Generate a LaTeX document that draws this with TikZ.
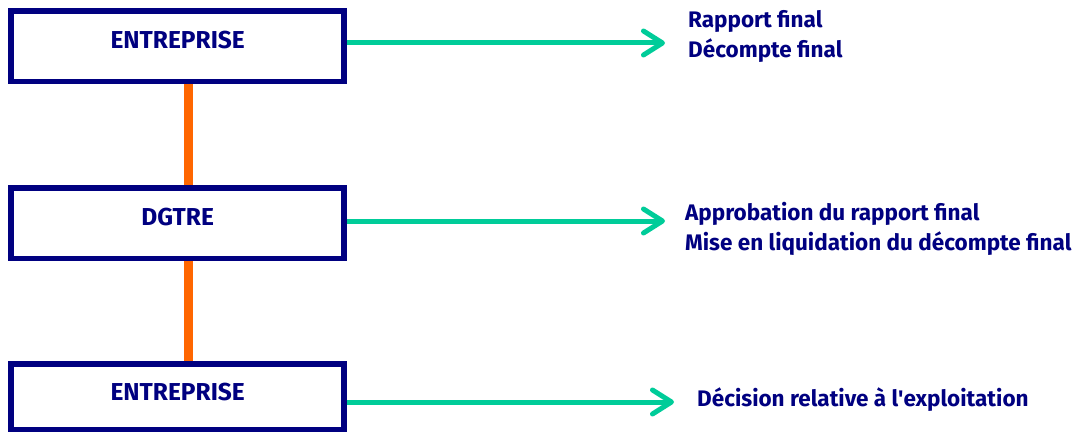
\documentclass[tikz,border=0pt]{standalone}
\usepackage{fontspec}
\setmainfont{Fira Sans}
\usetikzlibrary{arrows.meta,positioning}
\definecolor{navy}{RGB}{0,0,128}
\definecolor{mint}{RGB}{0,204,153}
\definecolor{tangerine}{RGB}{255,102,0}
\tikzstyle{block} = [rectangle, draw=navy, line width=5.5pt, text=navy,
    minimum width=333pt, minimum height=70.5pt, text height=14pt, text depth=9.5pt,
    font=\bfseries\fontsize{24.5}{28}\selectfont]
\tikzstyle{note} = [text=navy, align=left, anchor=base west, inner sep=0pt,
    font=\bfseries\fontsize{22.5}{30}\selectfont]
\tikzstyle{link} = [draw=tangerine, line width=9pt]
\tikzstyle{flow} = [draw=mint, line width=5pt, ->]

\begin{document}
\begin{tikzpicture}[x=1pt,y=-1pt,>={Straight Barb[length=19pt,width=24pt,round]},
                    node distance=176.7pt]
  \useasboundingbox (0,0) rectangle (1082,433);

  \node[block] (e1) at (177.7,46.3) {ENTREPRISE};
  \node[block] (dgtre) [below of=e1] {DGTRE};
  \node[block,minimum height=65.5pt,text depth=6.5pt] (e2) [below of=dgtre,node distance=173.5pt] {ENTREPRISE};

  \node[note] (out1) at (688,58)  {Rapport final\\Décompte final};
  \node[note] (out2) at (685,250) {Approbation du rapport final\\Mise en liquidation du décompte final};
  \node[note] (out3) at (697,406) {Décision relative à l\textquotesingle exploitation};

  \coordinate (spine) at (188,0);
  \coordinate (t1) at (665,43);
  \coordinate (t2) at (665,221);
  \coordinate (t3) at (674,402);

  \path[link] (e1.south -| spine) -- (dgtre.north -| spine)
              (dgtre.south -| spine) -- (e2.north -| spine);
  \draw[flow] (e1.east |- t1) -- (t1);
  \draw[flow] (dgtre.east |- t2) -- (t2);
  \draw[flow] (e2.east |- t3) -- (t3);
\end{tikzpicture}
\end{document}
